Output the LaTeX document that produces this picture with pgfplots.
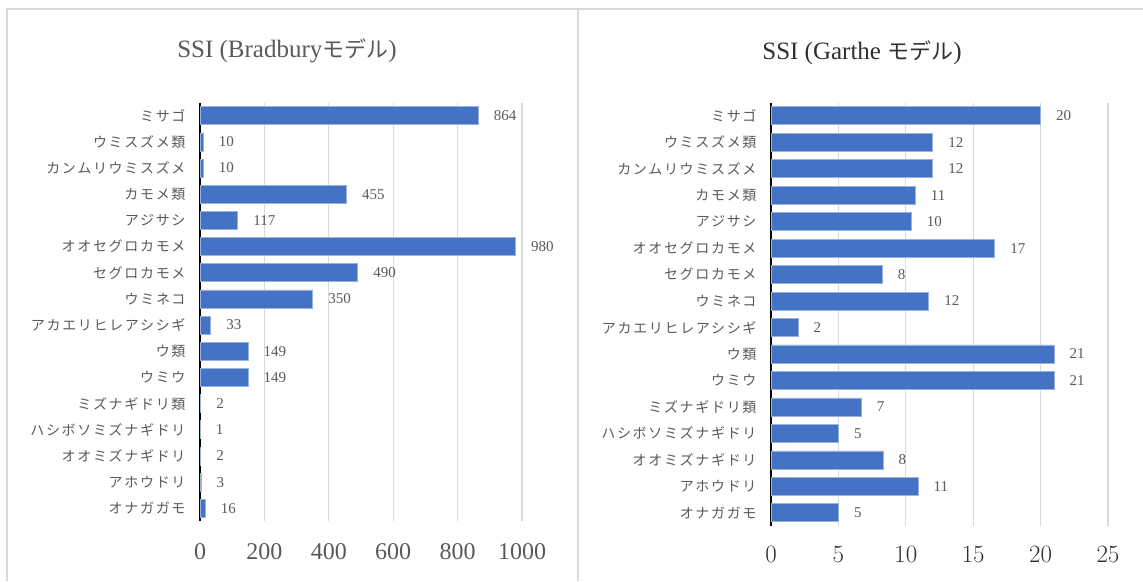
\documentclass[border=0pt]{standalone}
\usepackage{pgfplots}
\pgfplotsset{compat=1.18}
\usepackage{pgfplotstable}
\usepackage{fontspec}
\setmainfont{Liberation Serif}
\newfontfamily\jp[LetterSpace=12]{Noto Sans CJK JP}
\newfontfamily\jptitle{Noto Sans CJK JP}

\definecolor{barblue}{HTML}{4472C4}
\definecolor{gridgrey}{HTML}{D9D9D9}
\definecolor{txtgrey}{HTML}{595959}
\definecolor{darktxt}{HTML}{303030}

% idx 0 = top row
\pgfplotstableread{
idx val
0 864
1 10
2 10
3 455
4 117
5 980
6 490
7 350
8 33
9 149
10 149
11 2
12 1
13 2
14 3
15 16
}\bradbury

\pgfplotstableread{
idx val
0 20.0
1 12.0
2 12.0
3 10.7
4 10.4
5 16.6
6 8.25
7 11.7
8 2.0
9 21.0
10 21.0
11 6.7
12 5.0
13 8.3
14 10.9
15 5.0
}\garthe

\pgfplotsset{
  birdchart/.style={
    scale only axis,
    xbar,
    bar width=18pt,
    y dir=reverse,
    ymin=-0.5, ymax=15.5,
    ytick={0,...,15},
    yticklabels={ミサゴ,ウミスズメ類,カンムリウミスズメ,カモメ類,アジサシ,オオセグロカモメ,セグロカモメ,ウミネコ,アカエリヒレアシシギ,ウ類,ウミウ,ミズナギドリ類,ハシボソミズナギドリ,オオミズナギドリ,アホウドリ,オナガガモ},
    yticklabel style={font=\jp\fontsize{14}{14}\selectfont, text=txtgrey, anchor=east, xshift=-11pt},
    axis lines*=left,
    x axis line style={draw=none},
    y axis line style={black, line width=1.6pt},
    major tick length=0pt,
    xmajorgrids,
    grid style={gridgrey, line width=1.3pt},
    clip=false,
    nodes near coords,
    nodes near coords style={anchor=west, xshift=12pt, text=txtgrey, font=\fontsize{15}{15}\selectfont,
      /pgf/number format/.cd, fixed, precision=0, assume math mode=true},
  },
  birdbar/.style={fill=barblue, draw=barblue!55!white, line width=0.6pt},
}

\begin{document}
\begin{tikzpicture}
\useasboundingbox (0pt,0pt) rectangle (1143pt,581pt);
\draw[gridgrey, line width=1.5pt] (7pt,0pt) -- (7pt,572pt) -- (1143pt,572pt);
\draw[gridgrey, line width=1.5pt] (578pt,0pt) -- (578pt,572pt);

\node[text=txtgrey, font=\fontsize{25}{25}\selectfont] at (287pt,530pt) {SSI (Bradbury{\jptitle\fontsize{22}{22}\selectfont モデル})};
\node[text=darktxt, font=\fontsize{25}{25}\selectfont] at (862pt,528pt) {SSI (Garthe {\jptitle\fontsize{22}{22}\selectfont モデル})};

\begin{axis}[birdchart,
  at={(200pt,59.6pt)}, anchor=south west,
  width=322pt, height=418.8pt,
  xmin=0, xmax=1000,
  xtick={0,200,...,1000},
  xticklabel style={text=txtgrey, font=\fontsize{24}{24}\selectfont, yshift=-19pt,
    /pgf/number format/.cd, assume math mode=true, 1000 sep={}},
]
\addplot[birdbar] table[x=val, y=idx] {\bradbury};
\end{axis}

\begin{axis}[birdchart,
  at={(771pt,55pt)}, anchor=south west,
  width=337pt, height=423.5pt,
  xmin=0, xmax=25,
  xtick={0,5,...,25},
  xticklabel style={text=darktxt, font=\fontsize{23}{23}\selectfont, yshift=-17pt},
]
\addplot[birdbar] table[x=val, y=idx] {\garthe};
\end{axis}
\end{tikzpicture}
\end{document}
